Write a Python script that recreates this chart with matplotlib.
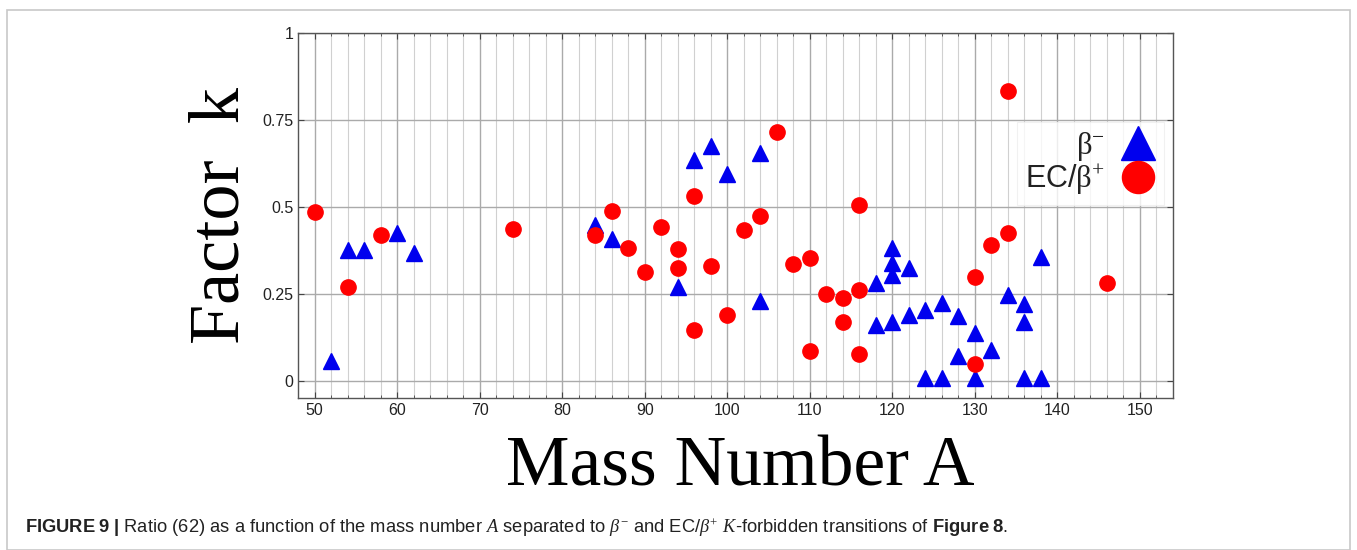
import numpy as np
import matplotlib
matplotlib.use("Agg")
import matplotlib.pyplot as plt
from matplotlib.patches import Rectangle
from matplotlib.ticker import MultipleLocator

plt.rcParams['font.family'] = ['Liberation Sans', 'DejaVu Sans']
plt.rcParams['mathtext.fontset'] = 'custom'
plt.rcParams['mathtext.rm'] = 'Liberation Serif'
plt.rcParams['mathtext.it'] = 'Liberation Serif:italic'
plt.rcParams['mathtext.bf'] = 'Liberation Sans:bold'

# beta- transitions (blue triangles)
beta_minus_A = [52, 54, 56, 60, 62, 84, 86, 94, 96, 98, 100, 104, 104,
                118, 118, 120, 120, 120, 120, 122, 122, 124, 124, 126, 126,
                128, 128, 130, 130, 132, 134, 136, 136, 136, 138, 138]
beta_minus_k = [0.058, 0.377, 0.377, 0.425, 0.367, 0.449, 0.408, 0.271, 0.636, 0.676, 0.596, 0.655, 0.230,
                0.281, 0.161, 0.384, 0.339, 0.305, 0.171, 0.324, 0.190, 0.204, 0.01, 0.225, 0.01,
                0.187, 0.072, 0.140, 0.01, 0.089, 0.247, 0.221, 0.171, 0.01, 0.356, 0.01]

# EC/beta+ transitions (red circles)
ec_A = [50, 54, 58, 74, 84, 86, 88, 90, 92, 94, 94, 96, 96, 98, 100, 102, 104,
        106, 108, 110, 110, 112, 114, 114, 116, 116, 116, 130, 130, 132, 134, 134, 146]
ec_k = [0.485, 0.271, 0.420, 0.437, 0.420, 0.489, 0.384, 0.315, 0.442, 0.379, 0.324, 0.532, 0.147,
        0.331, 0.190, 0.434, 0.475, 0.716, 0.336, 0.353, 0.087, 0.250, 0.238, 0.171,
        0.506, 0.262, 0.077, 0.298, 0.051, 0.390, 0.425, 0.833, 0.283]

x_ticks = list(range(50, 151, 10))
y_ticks = [0, 0.25, 0.5, 0.75, 1]
y_tick_labels = ["0", "0.25", "0.5", "0.75", "1"]

fig = plt.figure(figsize=(13.57, 5.5), dpi=100)
ax = fig.add_axes([298 / 1357, 1 - 398 / 550, 875 / 1357, 365 / 550])

ax.plot(beta_minus_A, beta_minus_k, '^', color='#0000ee', markersize=11.5,
        linestyle='none', label=r'$\mathrm{\beta}^{-}$', zorder=3)
ax.plot(ec_A, ec_k, 'o', color='#ff0000', markersize=11,
        linestyle='none', label=r'EC/$\mathrm{\beta}^{+}$', zorder=4)

ax.set_xlim(48, 154)
ax.set_ylim(-0.048, 1.0)
ax.set_xticks(x_ticks)
ax.xaxis.set_minor_locator(MultipleLocator(2))
ax.set_yticks(y_ticks)
ax.set_yticklabels(y_tick_labels)
ax.tick_params(axis='both', which='both', direction='in', labelsize=11.5,
               top=True, right=True, colors='#444444', labelcolor='#222222')
ax.tick_params(which='major', length=4)
ax.tick_params(which='minor', length=2)
ax.grid(which='major', color='#aaaaaa', linewidth=1.0)
ax.grid(which='minor', axis='x', color='#d0d0d0', linewidth=0.8)
ax.set_axisbelow(True)
for s in ax.spines.values():
    s.set_color('#555555')
    s.set_linewidth(1.0)

leg = ax.legend(loc='upper right', bbox_to_anchor=(0.99, 0.755), borderaxespad=0,
                markerfirst=False, fontsize=22, markerscale=2.1, frameon=True, fancybox=False,
                handletextpad=0.5, borderpad=0.25, labelspacing=0.0, handlelength=1.2)
leg.get_frame().set_edgecolor('#eeeeee')
leg.get_frame().set_linewidth(0.8)
for t in leg.get_texts():
    t.set_ha('right')
    t.set_color('#222222')

fig.text(221 / 1357, 1 - 215 / 550, 'Factor  k', family='Liberation Serif',
         fontsize=52, rotation=90, ha='center', va='center')
fig.text(740 / 1357, 1 - 486 / 550, 'Mass Number A', family='Liberation Serif',
         fontsize=51.5, ha='center', va='baseline')

fig.text(25 / 1357, 1 - 533 / 550,
         r'$\mathbf{FIGURE\ 9\ |}$ Ratio (62) as a function of the mass number $A$ separated to '
         r'$\beta^{-}$ and EC/$\beta^{+}$ $K$-forbidden transitions of $\mathbf{Figure\ 8}$.',
         fontsize=13.2, ha='left', va='baseline', color='#222222')

fig.patches.append(Rectangle((7 / 1357, 0), 1343 / 1357, 540 / 550, transform=fig.transFigure,
                             fill=False, edgecolor='#c8c8c8', linewidth=1.2))

fig.savefig('out.png', dpi=100)
